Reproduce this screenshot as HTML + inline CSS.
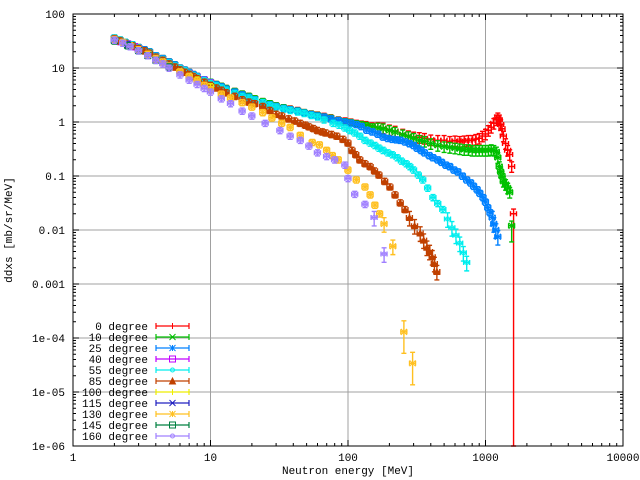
<!DOCTYPE html>
<html><head><meta charset="utf-8"><style>
body{margin:0;background:#fff}
svg{display:block;font-family:"Liberation Mono",monospace;font-size:11px}
</style></head><body>
<svg id="chart" width="640" height="480" viewBox="0 0 640 480" xmlns="http://www.w3.org/2000/svg">
<rect x="0" y="0" width="640" height="480" fill="#fff"/>
<g id="grid"></g>
<g id="series"></g>
<g id="axes"></g>
<g id="legend"></g>
<text x="348" y="474" text-anchor="middle">Neutron energy [MeV]</text>
<text transform="translate(12,230) rotate(-90)" text-anchor="middle">ddxs [mb/sr/MeV]</text>
</svg>
<script>
const xTicks=[1,10,100,1000,10000];
const xTickLabels=["1","10","100","1000","10000"];
const yTicks=[100,10,1,0.1,0.01,0.001,1e-4,1e-5,1e-6];
const yTickLabels=["100","10","1","0.1","0.01","0.001","1e-04","1e-05","1e-06"];
const seriesNames=["0 degree","10 degree","25 degree","40 degree","55 degree","85 degree","100 degree","115 degree","130 degree","145 degree","160 degree"];
const seriesColors=["#ff0000","#00c000","#0080ff","#c000ff","#00eeee","#c04000","#eeee00","#2020c0","#ffc020","#008040","#a080ff"];
const seriesMarkers=["plus","x","star","box","circle","tri","plus","x","star","box","circle"];
const e0=[2,2.2,2.4,2.7,3,3.3,3.6,4,4.5,5,5.5,6,6.5,7,7.5,8,9,10,11,12,13,15,17,19,21,24,27,30,34,38,43,48,54,60,67,75,85,95,105,115,125,135,150,165,180,200,220,250,275,300,330,360,400,450,500,550,600,650,700,750,800,850,900,950,1000,1050,1100,1150,1200,1230,1260,1290,1320,1350,1400,1450,1500,1550,1600];
const v0=[36,33,30,27,24,22,20,17,15,13,11.5,10,9.2,8.3,7.6,7,6.1,5.5,5,4.6,4.2,3.7,3.3,3,2.7,2.4,2.2,2.0,1.85,1.75,1.65,1.5,1.42,1.35,1.28,1.2,1.1,1.05,1.0,0.95,0.92,0.9,0.85,0.8,0.78,0.72,0.68,0.6,0.56,0.53,0.52,0.5,0.47,0.46,0.46,0.44,0.45,0.44,0.45,0.46,0.46,0.48,0.5,0.55,0.6,0.7,0.8,0.95,1.1,1.2,1.1,0.9,0.75,0.55,0.4,0.3,0.25,0.15,0.02];
const e10=[2,2.2,2.4,2.7,3,3.3,3.6,4,4.5,5,5.5,6,6.5,7,7.5,8,9,10,11,12,13,15,17,19,21,24,27,30,34,38,43,48,54,60,67,75,85,95,105,115,125,135,150,165,180,200,220,250,275,300,330,360,400,450,500,550,600,650,700,750,800,850,900,950,1000,1050,1100,1150,1200,1230,1260,1290,1320,1350,1400,1450,1500,1550];
const v10=[36,33,30,27,24,22,20,17,15,13,11.5,10,9.2,8.3,7.6,7,6.1,5.5,5,4.6,4.2,3.7,3.3,3,2.7,2.4,2.2,2.0,1.85,1.72,1.62,1.5,1.4,1.33,1.25,1.18,1.08,1.02,0.98,0.93,0.9,0.87,0.82,0.78,0.75,0.7,0.65,0.58,0.54,0.5,0.46,0.44,0.4,0.37,0.35,0.34,0.33,0.32,0.31,0.31,0.3,0.3,0.3,0.3,0.3,0.3,0.31,0.3,0.28,0.22,0.15,0.12,0.1,0.08,0.07,0.06,0.05,0.012];
const e25=[2,2.2,2.4,2.7,3,3.3,3.6,4,4.5,5,5.5,6,6.5,7,7.5,8,9,10,11,12,13,15,17,19,21,24,27,30,34,38,43,48,54,60,67,75,85,95,105,115,125,137,150,165,180,195,210,225,240,260,280,300,318,340,360,390,415,450,480,515,550,590,630,680,730,780,820,870,910,960,1000,1040,1080,1120,1150,1190,1230];
const v25=[36,33,30,27,24,22,20,17,15,13,11.5,10,9.2,8.3,7.6,7,6.1,5.4,4.9,4.5,4.1,3.6,3.2,2.9,2.6,2.3,2.1,1.95,1.8,1.7,1.6,1.48,1.38,1.3,1.24,1.15,1.07,1.0,0.96,0.9,0.83,0.71,0.66,0.6,0.53,0.5,0.48,0.47,0.46,0.43,0.4,0.37,0.33,0.3,0.27,0.24,0.22,0.2,0.18,0.16,0.15,0.13,0.12,0.1,0.085,0.075,0.065,0.056,0.048,0.04,0.033,0.026,0.021,0.017,0.013,0.01,0.0075];
const e40=[2,2.2,2.5,2.8,3,3.5,4,4.5,5,6,7,8,9,10];
const v40=[34,31,28,25,23,19,16,14,12,9.5,8,6.8,6,5.3];
const e55=[2,2.2,2.4,2.7,3,3.3,3.6,4,4.5,5,5.5,6,6.5,7,7.5,8,9,10,11,12,13,15,17,19,21,24,27,30,34,38,43,48,54,60,67,78,86,95,103,112,122,133,145,157,168,180,195,210,228,245,265,282,300,325,350,380,415,450,490,530,570,610,650,690,730];
const v55=[36,33,30,27,23.5,21,19.5,16.5,14.5,12.5,11,9.8,8.9,8,7.3,6.8,5.9,5.2,4.7,4.3,3.9,3.4,3,2.8,2.55,2.3,2.05,1.9,1.75,1.65,1.55,1.45,1.33,1.25,1.1,0.95,0.88,0.78,0.7,0.63,0.55,0.46,0.41,0.37,0.33,0.3,0.27,0.25,0.22,0.19,0.17,0.15,0.13,0.105,0.085,0.06,0.04,0.031,0.024,0.016,0.011,0.008,0.0057,0.0038,0.0025];
const e85=[2,2.2,2.4,2.7,3,3.3,3.6,4,4.5,5,5.5,6,6.5,7,7.5,8,9,10,11,12,13,15,17,19,21,24,27,30,33,37,41,45,49,52,56,60,65,69,76,83,92,100,107,114,122,133,145,156,168,185,202,220,240,260,280,305,335,355,375,392,410,425,443];
const v85=[35,32,29,26,23,21,19,16,14,12,10.5,9.3,8.4,7.7,7,6.4,5.5,4.8,4.3,3.9,3.5,3.0,2.6,2.35,2.2,1.95,1.65,1.4,1.3,1.15,1.05,0.95,0.88,0.82,0.76,0.7,0.66,0.63,0.59,0.55,0.48,0.41,0.3,0.25,0.2,0.17,0.15,0.125,0.105,0.08,0.063,0.045,0.032,0.024,0.017,0.012,0.0088,0.0065,0.0048,0.004,0.0032,0.0024,0.0017];
const e100=[2,2.5,3,3.5,4,5,6,7,8,10];
const v100=[33,27,22,18,15,11,8.5,7,6,4.5];
const e115=[2,2.5,3,4,5];
const v115=[33,27,22,15,11];
const e130=[2,2.3,2.6,3,3.5,4,4.5,5,6,7,8,9,10,12,14,17,20,24,28,33,38,45,55,62,70,77,85,100,115,133,145,157,170,183,212,255,295];
const v130=[34,30,26,22,18,15,13,11,8.5,7,5.8,4.8,4.0,3.3,2.8,2.3,1.9,1.5,1.2,0.95,0.8,0.57,0.42,0.38,0.3,0.24,0.2,0.13,0.085,0.063,0.045,0.029,0.02,0.013,0.005,1.3e-4,3.4e-5];
const e145=[2,2.5,3,3.5,4,5];
const v145=[32,26,21,17,14,10.5];
const e160=[2,2.3,2.6,3,3.5,4,4.5,5,6,7,8,9,10,12,14,17,20,25,32,38,45,52,60,70,80,95,100,112,133,155,183];
const v160=[33,29,25,21,17,14,12,10,7.5,6,5,4.2,3.6,2.7,2.2,1.6,1.3,0.95,0.7,0.55,0.46,0.36,0.27,0.23,0.2,0.16,0.09,0.046,0.03,0.017,0.0036];
const fullDropE=[1600];
const allE=[e0,e10,e25,e40,e55,e85,e100,e115,e130,e145,e160];
const allV=[v0,v10,v25,v40,v55,v85,v100,v115,v130,v145,v160];

const L=73,R=623,T=14,B=446;
const NS="http://www.w3.org/2000/svg";
function xs(v){return L+Math.log10(v)/4*(R-L);}
function ys(v){return T+(2-Math.log10(v))/8*(B-T);}
function mk(tag,attrs,parent){const el=document.createElementNS(NS,tag);for(const k in attrs)el.setAttribute(k,attrs[k]);parent.appendChild(el);return el;}
const grid=document.getElementById('grid'),axes=document.getElementById('axes'),sg=document.getElementById('series'),lg=document.getElementById('legend');
xTicks.forEach((t,i)=>{if(i>0&&i<xTicks.length-1){const l=mk('line',{x1:xs(t),x2:xs(t),y1:T,y2:B,stroke:'#a0a0a0','stroke-width':1},grid);

}});
yTicks.forEach((t,i)=>{if(i>0&&i<yTicks.length-1){const l=mk('line',{x1:L,x2:R,y1:ys(t),y2:ys(t),stroke:'#a0a0a0','stroke-width':1},grid);

}});
function marker(g,type,x,y,c){const s=3;
 if(type==='plus'){mk('path',{d:`M${x-s} ${y}H${x+s}M${x} ${y-s}V${y+s}`,stroke:c,fill:'none'},g);}
 else if(type==='x'){mk('path',{d:`M${x-s} ${y-s}L${x+s} ${y+s}M${x-s} ${y+s}L${x+s} ${y-s}`,stroke:c,fill:'none'},g);}
 else if(type==='star'){mk('path',{d:`M${x-s} ${y}H${x+s}M${x} ${y-s}V${y+s}M${x-s} ${y-s}L${x+s} ${y+s}M${x-s} ${y+s}L${x+s} ${y-s}`,stroke:c,fill:'none'},g);}
 else if(type==='box'){mk('rect',{x:x-s,y:y-s,width:2*s,height:2*s,stroke:c,fill:'none'},g);}
 else if(type==='circle'){mk('circle',{cx:x,cy:y,r:2,stroke:c,fill:'none'},g);}
 else {mk('path',{d:`M${x-s} ${y+s}L${x} ${y-s}L${x+s} ${y+s}Z`,stroke:c,fill:c},g);}
}
allE.forEach((E,si)=>{const V=allV[si],c=seriesColors[si];
 const g=mk('g',{},sg);
 
 
 E.forEach((e,i)=>{const v=V[i];const x=xs(e),y=ys(v);
  let f=v<1e-3?0.6:(v<0.02?0.3:0.13);
  if(si<2&&e>150)f=0.22;
  const x1=xs(e*0.95),x2=xs(e*1.05);
  const y1=ys(v*(1+f));
  const drop=(si===0&&fullDropE.indexOf(e)>=0);
  const y2=drop?B:(si===1&&i===E.length-1?ys(v*0.5):ys(v*(1-f)));
  const p=mk('path',{d:`M${x1} ${y}H${x2}M${x1} ${y-2.5}V${y+2.5}M${x2} ${y-2.5}V${y+2.5}M${x} ${y1}V${y2}M${x-2.5} ${y1}H${x+2.5}M${x-2.5} ${y2}H${x+2.5}`,stroke:c,fill:'none','stroke-width':1.4},g);
  
  
  marker(g,seriesMarkers[si],x,y,c);
 });
});
const fr=mk('rect',{x:L,y:T,width:R-L,height:B-T,fill:'none',stroke:'#000','stroke-width':1},axes);


for(let d=0;d<4;d++){for(let m=1;m<10;m++){const v=Math.pow(10,d)*m;const x=xs(v);const len=m===1?6:3;
 mk('line',{x1:x,x2:x,y1:B,y2:B-len,stroke:'#000'},axes);mk('line',{x1:x,x2:x,y1:T,y2:T+len,stroke:'#000'},axes);}}
for(let d=-6;d<2;d++){for(let m=1;m<10;m++){const v=Math.pow(10,d)*m;const y=ys(v);const len=m===1?6:3;
 mk('line',{x1:L,x2:L+len,y1:y,y2:y,stroke:'#000'},axes);mk('line',{x1:R,x2:R-len,y1:y,y2:y,stroke:'#000'},axes);}}
xTicks.forEach((t,i)=>{const tx=mk('text',{x:xs(t),y:B+15,'text-anchor':'middle'},axes);tx.textContent=xTickLabels[i];

});
yTicks.forEach((t,i)=>{const tx=mk('text',{x:L-8,y:ys(t)+4,'text-anchor':'end'},axes);tx.textContent=yTickLabels[i];

});
seriesNames.forEach((n,i)=>{const y=326+i*11;const c=seriesColors[i];
 const g=mk('g',{},lg);
 
 
 const tx=mk('text',{x:148,y:y+4,'text-anchor':'end'},g);tx.textContent=n;
 mk('path',{d:`M156 ${y}H189M156 ${y-3}V${y+3}M189 ${y-3}V${y+3}`,stroke:c,fill:'none','stroke-width':1.2},g);
 marker(g,seriesMarkers[i],172.5,y,c);
});
</script>
</body></html>
